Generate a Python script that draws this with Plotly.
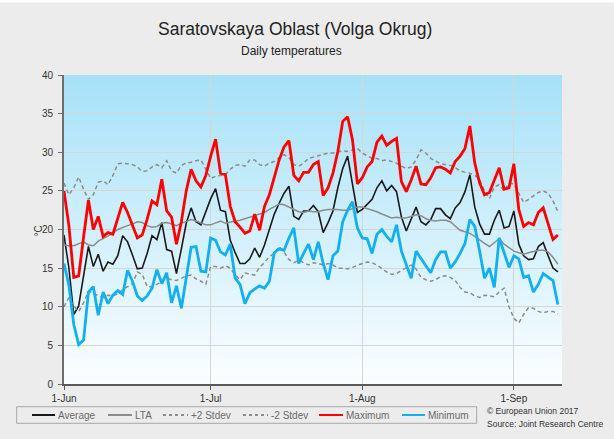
import pandas as pd
import plotly.graph_objects as go

# ---------------- data ----------------
start_date = "2017-06-01"
tick_dates = ["2017-06-01", "2017-07-01", "2017-08-01", "2017-09-01"]
tick_labels = ["1-Jun", "1-Jul", "1-Aug", "1-Sep"]
y_ticks = [0, 5, 10, 15, 20, 25, 30, 35, 40]

average = [19.3, 15.0, 9.0, 10.1, 14.0, 17.8, 15.2, 16.8, 14.6, 15.8,
           15.5, 16.6, 19.2, 18.4, 16.7, 14.9, 15.0, 16.9, 19.2, 18.7,
           20.9, 17.4, 17.2, 14.3, 17.5, 20.8, 22.8, 21.0, 20.6, 22.3,
           24.0, 25.3, 22.5, 22.3, 18.6, 17.0, 15.6, 15.6, 16.2, 17.6,
           16.4, 18.0, 20.0, 22.0, 23.4, 24.7, 25.6, 21.7, 21.3, 22.4,
           22.4, 23.1, 22.3, 19.6, 20.9, 22.4, 25.4, 27.9, 29.5, 25.9,
           22.2, 22.6, 23.2, 23.9, 25.4, 26.3, 25.0, 25.7, 24.9, 21.6,
           19.8, 21.3, 22.9, 21.0, 20.6, 21.3, 22.7, 22.7, 21.9, 21.4,
           22.8, 23.5, 24.9, 27.1, 22.9, 20.7, 19.4, 19.4, 21.2, 22.5,
           20.2, 20.4, 22.4, 18.1, 16.6, 16.1, 16.2, 17.8, 18.3, 16.6,
           15.0, 14.5]

lta = [18.0, 17.9, 17.9, 18.2, 18.4, 18.0, 17.9, 18.5, 18.8, 19.1,
       19.5, 20.0, 20.3, 20.5, 20.7, 21.0, 20.9, 20.5, 20.3, 20.4,
       20.8, 20.9, 20.7, 20.5, 20.8, 21.1, 21.3, 21.1, 20.9, 20.6,
       20.6, 20.9, 21.1, 20.8, 21.0, 21.1, 21.2, 21.4, 21.6, 21.7,
       21.9, 22.2, 22.6, 23.0, 23.3, 23.2, 22.9, 22.5, 22.3, 22.2,
       22.4, 22.3, 22.3, 22.5, 22.6, 22.6, 22.6, 22.5, 22.5, 22.7,
       22.9, 22.9, 22.7, 22.5, 22.3, 22.0, 21.7, 21.5, 21.6, 21.5,
       21.5, 21.7, 21.9, 21.8, 21.4, 21.2, 21.1, 21.2, 21.2, 21.0,
       20.5, 19.9, 19.7, 19.5, 19.1, 18.6, 18.2, 17.8, 18.3, 18.8,
       18.1, 17.6, 17.2, 17.0, 16.8, 17.0, 17.2, 17.3, 17.3, 17.1,
       16.4, 15.5]

plus2_stdev = [26.0, 24.5, 25.4, 26.8, 25.2, 23.9, 24.5, 26.1, 26.3, 25.8,
               27.0, 28.5, 28.6, 28.5, 28.4, 28.1, 27.5, 27.6, 28.1, 28.4,
               28.0, 28.9, 27.6, 27.3, 28.3, 28.6, 28.7, 28.9, 29.0, 27.8,
               26.6, 26.9, 27.0, 27.1, 27.8, 28.3, 28.4, 28.2, 29.0, 29.0,
               28.4, 28.2, 28.6, 28.8, 29.3, 29.7, 29.3, 28.4, 28.2, 28.6,
               29.2, 29.4, 29.5, 29.7, 29.9, 29.9, 30.1, 30.2, 30.1, 30.3,
               30.5, 29.9, 29.5, 29.2, 29.2, 28.9, 29.0, 28.8, 28.6, 28.2,
               27.9, 28.1, 29.0, 30.3, 29.9, 29.2, 28.8, 28.5, 28.4, 28.3,
               28.0, 27.6, 27.4, 27.3, 27.0, 26.5, 25.0, 24.0, 25.5, 25.8,
               25.0, 26.0, 25.9, 24.6, 23.5, 23.9, 24.3, 24.8, 25.0, 24.7,
               23.7, 22.3]

minus2_stdev = [10.0, 11.2, 10.1, 9.4, 10.5, 12.0, 11.8, 11.4, 11.2, 11.5,
                11.4, 11.7, 12.2, 12.6, 13.0, 14.5, 14.2, 12.6, 12.6, 12.9,
                13.3, 13.7, 13.5, 13.4, 13.7, 14.0, 14.1, 13.6, 13.3, 12.9,
                15.2, 15.2, 15.0, 15.3, 15.0, 14.1, 13.5, 14.4, 14.2, 14.1,
                15.1, 15.7, 16.5, 16.9, 17.8, 17.1, 16.1, 15.7, 16.0, 15.7,
                15.4, 15.7, 15.6, 15.4, 15.6, 15.4, 15.0, 15.0, 14.9, 15.1,
                15.4, 15.6, 15.8, 15.7, 15.4, 14.9, 14.5, 14.2, 14.3, 14.7,
                15.1, 15.4, 14.9, 13.8, 13.5, 13.3, 13.5, 13.9, 14.0, 13.8,
                13.4, 12.5, 11.9, 11.8, 11.4, 11.2, 11.5, 11.4, 11.3, 11.9,
                12.4, 10.0, 8.5, 7.9, 9.0, 9.9, 9.8, 9.4, 9.2, 9.4,
                9.4, 9.1]

maximum = [25.0, 20.5, 13.8, 14.0, 19.0, 23.8, 20.0, 21.7, 19.1, 19.6,
           19.4, 21.5, 23.5, 22.2, 20.5, 18.9, 19.3, 21.3, 23.7, 23.2,
           26.5, 22.4, 21.6, 18.1, 21.0, 25.0, 27.8, 26.3, 25.5, 27.0,
           29.5, 31.7, 27.3, 27.1, 23.0, 21.0, 20.3, 19.5, 19.8, 22.0,
           19.9, 23.0, 24.5, 26.8, 29.0, 30.7, 31.5, 27.0, 26.3, 27.4,
           27.4, 28.4, 28.8, 24.4, 25.4, 27.3, 30.1, 34.0, 34.6, 31.6,
           25.9, 26.7, 28.1, 28.8, 31.3, 32.1, 30.9, 31.4, 31.8, 26.2,
           24.9, 26.4, 28.2, 25.9, 25.8, 26.7, 28.0, 28.1, 27.8, 27.3,
           28.8, 29.5, 30.5, 33.4, 28.6, 26.0, 24.5, 24.8, 26.4, 28.0,
           25.2, 25.4, 28.5, 22.6, 20.4, 20.9, 20.6, 22.2, 22.8, 20.8,
           18.7, 19.3]

minimum = [15.6, 12.8, 7.7, 5.1, 5.7, 11.9, 12.6, 8.9, 11.9, 10.4,
           11.5, 12.1, 11.6, 14.7, 13.3, 11.4, 10.8, 11.4, 12.4, 14.8,
           13.0, 14.4, 10.5, 12.7, 9.8, 13.5, 17.7, 17.8, 14.6, 14.5,
           18.9, 18.6, 17.1, 16.7, 18.1, 13.7, 12.9, 10.4, 11.8, 12.3,
           12.7, 12.4, 13.3, 17.0, 17.5, 17.3, 18.9, 20.2, 15.6, 16.9,
           18.1, 16.1, 18.4, 15.6, 13.5, 16.6, 17.2, 21.0, 22.5, 23.6,
           20.2, 18.9, 18.8, 16.9, 19.4, 20.0, 19.1, 18.4, 20.6, 17.2,
           15.4, 13.7, 17.2, 16.2, 15.3, 14.4, 16.1, 17.1, 17.1, 15.0,
           15.8, 16.9, 18.2, 21.3, 20.4, 17.2, 13.7, 15.0, 12.5, 18.9,
           17.0, 15.1, 16.6, 16.2, 13.8, 14.0, 11.9, 12.9, 14.3, 13.8,
           13.4, 10.3]

dates = pd.date_range(start_date, periods=len(average), freq="D")

# ---------------- geometry helpers (pixel -> paper) ----------------
W, H = 614, 439
L, R, T, B = 64, 52, 75, 55
PW, PH = W - L - R, H - T - B


def px(x):
    return (x - L) / PW


def py(y):
    return (H - B - y) / PH


FONT = "Liberation Sans, Arial, sans-serif"

series = [
    ("Average", average, dict(color="#1a1a1a", width=1.6)),
    ("LTA", lta, dict(color="#8c8c8c", width=1.5)),
    ("+2 Stdev", plus2_stdev, dict(color="#8c8c8c", width=1.5, dash="4px,3px")),
    ("-2 Stdev", minus2_stdev, dict(color="#8c8c8c", width=1.5, dash="4px,3px")),
    ("Maximum", maximum, dict(color="#ff0000", width=2.8)),
    ("Minimum", minimum, dict(color="#12b0ee", width=2.8)),
]

fig = go.Figure()
for name, vals, line in series:
    fig.add_trace(go.Scatter(x=dates, y=vals, mode="lines", name=name,
                             line=line, hoverinfo="skip"))

# ---------------- background gradient of plot area ----------------
shapes = []
N = 80
top = (166, 225, 248)
bot = (252, 254, 255)
for i in range(N):
    f = (i + 0.5) / N
    c = tuple(round(bot[k] + (top[k] - bot[k]) * f) for k in range(3))
    shapes.append(dict(type="rect", xref="paper", yref="paper",
                       x0=0, x1=1, y0=i / N, y1=min(1.0, (i + 2.5) / N),
                       fillcolor="rgb(%d,%d,%d)" % c, line=dict(width=0),
                       layer="below"))

# thin white strip at very top of picture
shapes.append(dict(type="rect", xref="paper", yref="paper",
                   x0=px(0), x1=px(W), y0=py(2.5), y1=py(0),
                   fillcolor="white", line=dict(width=0), layer="below"))

# ---------------- custom legend ----------------
leg_y = 415
shapes.append(dict(type="rect", xref="paper", yref="paper",
                   x0=px(16.7), x1=px(476.7), y0=py(423.3), y1=py(406.7),
                   line=dict(color="#a8a8a8", width=1), fillcolor="rgba(0,0,0,0)",
                   layer="above"))
legend_pos = [(32, 55), (108, 132), (163, 188), (243, 268), (319, 343), (402, 425)]
annotations = []
for (name, vals, line), (x0, x1) in zip(series, legend_pos):
    shapes.append(dict(type="line", xref="paper", yref="paper",
                       x0=px(x0), x1=px(x1), y0=py(leg_y), y1=py(leg_y),
                       line=dict(color=line["color"], width=2,
                                 dash="3px,3px" if "dash" in line else "solid"),
                       layer="above"))
    annotations.append(dict(text=name, xref="paper", yref="paper",
                            x=px(x1 + 0.5), y=py(leg_y), xanchor="left", yanchor="middle",
                            showarrow=False,
                            font=dict(family=FONT, size=10, color="#6a6a6a")))

# titles and other texts
annotations += [
    dict(text="Saratovskaya Oblast (Volga Okrug)", xref="paper", yref="paper",
         x=px(294.5), y=py(29), xanchor="center", yanchor="middle", showarrow=False,
         font=dict(family=FONT, size=17.5, color="#222222")),
    dict(text="Daily temperatures", xref="paper", yref="paper",
         x=px(291.7), y=py(51), xanchor="center", yanchor="middle", showarrow=False,
         font=dict(family=FONT, size=12, color="#222222")),
    dict(text="°C", xref="paper", yref="paper", textangle=-90,
         x=px(37.5), y=py(231), xanchor="center", yanchor="middle", showarrow=False,
         font=dict(family=FONT, size=10, color="#333333")),
    dict(text="© European Union 2017", xref="paper", yref="paper",
         x=px(485), y=py(410.7), xanchor="left", yanchor="middle", showarrow=False,
         font=dict(family=FONT, size=8.5, color="#333333")),
    dict(text="Source: Joint Research Centre", xref="paper", yref="paper",
         x=px(485), y=py(424), xanchor="left", yanchor="middle", showarrow=False,
         font=dict(family=FONT, size=8.5, color="#333333")),
]

x_end = pd.Timestamp(start_date) + pd.Timedelta(days=PW / 4.89)

fig.update_layout(
    width=W, height=H,
    margin=dict(l=L, r=R, t=T, b=B, pad=0),
    paper_bgcolor="#ececec",
    plot_bgcolor="white",
    showlegend=False,
    shapes=shapes,
    annotations=annotations,
    font=dict(family=FONT, size=10, color="#333333"),
    xaxis=dict(type="date", range=[pd.Timestamp(start_date), x_end],
               tickvals=tick_dates, ticktext=tick_labels,
               showgrid=True, gridcolor="#d6d6d6", gridwidth=1,
               showline=True, linecolor="#5a5a5a", linewidth=2,
               ticks="outside", ticklen=4, tickcolor="#5a5a5a", tickwidth=1,
               tickfont=dict(family=FONT, size=10, color="#333333"),
               zeroline=False, fixedrange=True),
    yaxis=dict(range=[0, 40], tickvals=y_ticks,
               showgrid=True, gridcolor="#d6d6d6", gridwidth=1,
               showline=True, linecolor="#6e6e6e", linewidth=2,
               ticks="outside", ticklen=4, tickcolor="#6e6e6e", tickwidth=1,
               ticklabelstandoff=3,
               tickfont=dict(family=FONT, size=10, color="#333333"),
               zeroline=False, fixedrange=True),
)

fig.write_html(
    "out.html",
    config={"displayModeBar": False, "staticPlot": True},
    post_script="document.body.style.margin='0';document.body.style.background='#ececec';",
)
